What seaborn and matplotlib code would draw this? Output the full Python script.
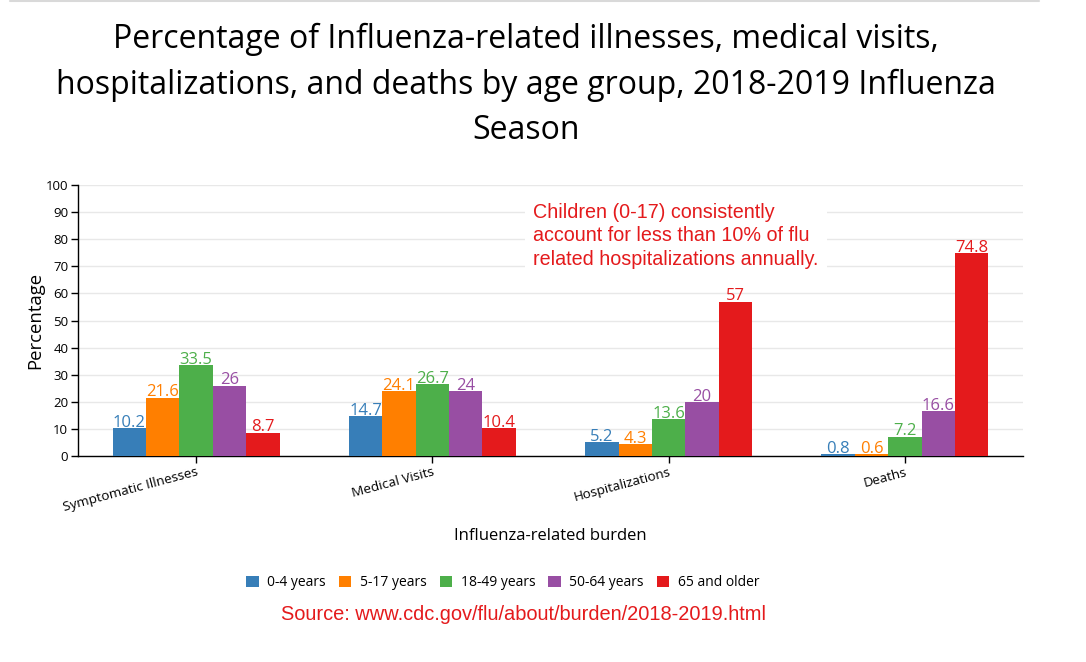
import pandas as pd
import seaborn as sns
import matplotlib.pyplot as plt
from matplotlib.lines import Line2D
from matplotlib.patches import Patch

categories = ["Symptomatic Illnesses", "Medical Visits", "Hospitalizations", "Deaths"]
age_groups = ["0-4 years", "5-17 years", "18-49 years", "50-64 years", "65 and older"]
colors = ["#377eb8", "#ff7f00", "#4daf4a", "#984ea3", "#e41a1c"]

age_0_4 = [10.2, 14.7, 5.2, 0.8]
age_5_17 = [21.6, 24.1, 4.3, 0.6]
age_18_49 = [33.5, 26.7, 13.6, 7.2]
age_50_64 = [26, 24, 20, 16.6]
age_65_up = [8.7, 10.4, 57, 74.8]

series = [age_0_4, age_5_17, age_18_49, age_50_64, age_65_up]
rows = []
for grp, vals in zip(age_groups, series):
    for cat, v in zip(categories, vals):
        rows.append({"burden": cat, "age": grp, "pct": v})
df = pd.DataFrame(rows)

sns.set_style("white")
plt.rcParams["font.family"] = ["Open Sans", "DejaVu Sans"]
plt.rcParams["text.color"] = "black"
plt.rcParams["axes.labelcolor"] = "black"
plt.rcParams["xtick.color"] = "black"
plt.rcParams["ytick.color"] = "black"

fig = plt.figure(figsize=(10.86, 6.62), dpi=100)
ax = fig.add_axes([0.0718, 0.311, 0.8702, 0.4095])

sns.barplot(data=df, x="burden", y="pct", hue="age", order=categories,
            hue_order=age_groups, palette=colors, width=0.707, saturation=1,
            linewidth=0, legend=False, ax=ax, zorder=3)

for cont, c in zip(ax.containers, colors):
    ax.bar_label(cont, labels=[f"{v:g}" for v in cont.datavalues],
                 color=c, fontsize=12, padding=-2)

ax.set_ylim(0, 100)
ax.set_xlim(-0.5, 3.5)
ax.set_yticks(range(0, 101, 10))
ax.yaxis.grid(True, color="#e8e8e8", linewidth=1, zorder=0)
ax.set_axisbelow(True)
for s in ["top", "right"]:
    ax.spines[s].set_visible(False)
for s in ["left", "bottom"]:
    ax.spines[s].set_color("black")
    ax.spines[s].set_linewidth(1)
ax.tick_params(axis="both", which="both", direction="out", length=5, width=1,
               color="black", left=True, bottom=True, labelsize=9.5, pad=2)
plt.setp(ax.get_xticklabels(), rotation=15, ha="right", rotation_mode="anchor",
         fontsize=9.7)
ax.set_ylabel("Percentage", fontsize=13.3, labelpad=1)
ax.set_xlabel("Influenza-related burden", fontsize=12, labelpad=10)

ax.text(0.4815, 0.935,
        "Children (0-17) consistently\naccount for less than 10% of flu\nrelated hospitalizations annually.",
        transform=ax.transAxes, ha="left", va="top", color="#e41a1c",
        fontsize=14.2, family=["Liberation Sans", "DejaVu Sans"], linespacing=1.3,
        bbox=dict(facecolor="white", edgecolor="none", pad=6), zorder=4)

fig.text(0.484, 0.965,
         "Percentage of Influenza-related illnesses, medical visits,\n"
         "hospitalizations, and deaths by age group, 2018-2019 Influenza\nSeason",
         ha="center", va="top", fontsize=23.0, linespacing=1.49)

handles = [Patch(facecolor=c, edgecolor="none") for c in colors]
fig.legend(handles, age_groups, loc="center", bbox_to_anchor=(0.463, 0.12),
           ncol=5, frameon=False, fontsize=10, handlelength=0.9, handleheight=0.9,
           handletextpad=0.6, columnspacing=0.95)

fig.text(0.482, 0.072, "Source: www.cdc.gov/flu/about/burden/2018-2019.html",
         ha="center", va="center", color="#e41a1c", fontsize=14.4,
         family=["Liberation Sans", "DejaVu Sans"])

fig.add_artist(Line2D([0.009, 0.957], [0.998, 0.998], color="#d9d9d9", linewidth=1.5))

fig.savefig("out.png", dpi=100)
